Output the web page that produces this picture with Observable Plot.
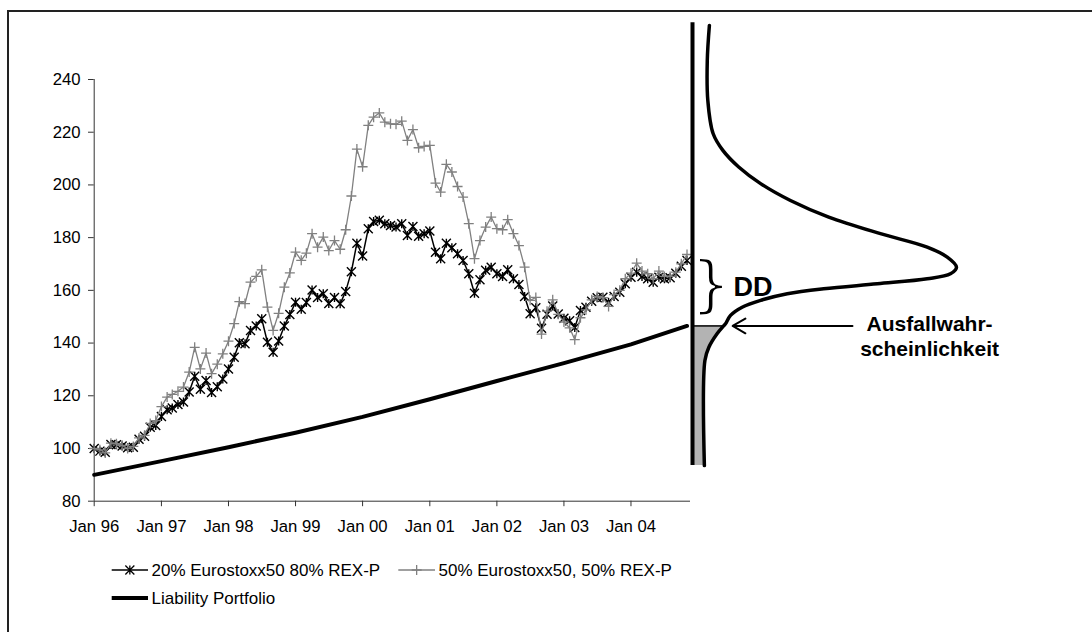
<!DOCTYPE html>
<html><head><meta charset="utf-8">
<script src="https://cdn.jsdelivr.net/npm/d3@7"></script>
<script src="https://cdn.jsdelivr.net/npm/@observablehq/plot@0.6"></script>
<style>
body{margin:0;background:#fff;font-family:"Liberation Sans",Arial,sans-serif;}
#wrap{position:relative;width:1092px;height:632px;overflow:hidden;background:#fff;}
#frame{position:absolute;left:7px;top:10px;right:-10px;bottom:-10px;border-left:2px solid #222;border-top:2px solid #222;}
#wrap svg{position:absolute;left:0;top:0;}
</style></head><body>
<div id="wrap"><div id="frame"></div></div>
<script>
// ---------- data ----------
const seriesNames = ["20% Eurostoxx50 80% REX-P", "50% Eurostoxx50, 50% REX-P", "Liability Portfolio"];
const firstMonth = "1996-01";
const series20 = [
  100.0, 99.0, 98.6, 101.5, 101.4, 100.9, 100.3, 100.5, 103.5, 104.6, 108.1, 108.7,
  112.1, 114.7, 115.4, 116.7, 117.6, 121.4, 127.4, 122.5, 125.8, 121.2, 123.4, 126.4,
  130.2, 134.6, 140.1, 139.7, 144.8, 146.5, 149.2, 140.3, 136.5, 140.8, 146.5, 150.8,
  155.5, 152.8, 155.4, 160.1, 157.3, 158.7, 155.0, 157.3, 154.9, 159.6, 167.1, 177.9,
  173.0, 183.4, 186.1, 186.6, 185.3, 184.6, 184.0, 185.3, 180.8, 184.2, 180.5, 181.5,
  182.5, 174.5, 172.0, 177.9, 176.2, 173.9, 171.3, 166.3, 158.9, 164.0, 167.6, 168.8,
  166.3, 165.3, 167.8, 164.4, 162.2, 157.7, 151.1, 153.4, 145.6, 150.9, 154.1, 151.0,
  149.4, 148.5, 145.9, 152.4, 153.6, 155.9, 157.2, 157.4, 155.5, 157.7, 159.3, 162.5,
  165.0, 166.9, 165.3, 164.4, 163.1, 165.0, 164.4, 164.8, 166.5, 169.1, 171.3
];
const series50 = [
  100.0, 99.5, 98.3, 102.0, 101.8, 101.2, 100.0, 100.8, 104.0, 105.0, 109.5, 110.6,
  115.9, 119.5, 120.5, 121.7, 123.3, 129.0, 138.4, 130.2, 136.2, 128.4, 132.0, 135.9,
  140.7, 147.4, 155.7, 155.0, 163.1, 165.3, 167.8, 153.6, 144.8, 151.3, 161.2, 166.6,
  174.5, 171.4, 174.1, 181.5, 176.4, 180.2, 175.1, 178.9, 175.6, 183.0, 195.8, 213.6,
  206.9, 222.6, 225.7, 227.3, 223.8, 223.2, 223.0, 224.2, 216.9, 221.0, 214.1, 214.6,
  215.0, 200.7, 197.3, 207.8, 204.9, 199.4, 195.4, 185.3, 172.0, 178.9, 184.0, 187.8,
  183.4, 183.0, 186.8, 181.5, 177.0, 168.8, 156.2, 157.3, 143.4, 152.1, 156.4, 150.9,
  148.0, 145.8, 141.3, 149.6, 152.6, 156.4, 157.7, 157.2, 153.9, 158.4, 160.0, 164.4,
  166.5, 170.3, 167.3, 166.3, 164.4, 167.3, 165.3, 165.3, 166.9, 170.1, 173.6
];
const liabilityMonths = ["1996-01","1997-01","1998-01","1999-01","2000-01","2001-01","2002-01","2003-01","2004-01","2004-11"];
const liabilityValues = [90.0, 95.2, 100.5, 106.0, 112.0, 118.7, 125.6, 132.4, 139.5, 146.5];
const yTicks = [80, 100, 120, 140, 160, 180, 200, 220, 240];
const xTickLabels = ["Jan 96","Jan 97","Jan 98","Jan 99","Jan 00","Jan 01","Jan 02","Jan 03","Jan 04"];
const xDomainEnd = "2004-11-20";
// density of the portfolio value at the horizon (value level, relative height)
const densityValues  = [260.5, 247.2, 232.1, 219.5, 213.1, 206.8, 200.5, 194.1, 187.8, 181.5, 176.4, 172.6, 168.8, 166.3, 164.4, 162.5, 160.6, 158.7, 156.2, 153.6, 150.5, 147.3, 146.5, 143.5, 138.4, 133.4, 93.5];
const densityHeights = [0.064, 0.056, 0.058, 0.078, 0.115, 0.175, 0.258, 0.371, 0.516, 0.712, 0.889, 0.965, 1.0, 0.977, 0.889, 0.70, 0.497, 0.359, 0.258, 0.188, 0.144, 0.125, 0.118, 0.093, 0.062, 0.047, 0.045];
const annotationDD = "DD";
const annotationPD = "Ausfallwahr-\nscheinlichkeit";

// ---------- build tables ----------
const parseMonth = d3.utcParse("%Y-%m");
const start = parseMonth(firstMonth);
const monthDate = i => d3.utcMonth.offset(start, i);
const data20 = series20.map((v, i) => ({date: monthDate(i), value: v}));
const data50 = series50.map((v, i) => ({date: monthDate(i), value: v}));
const liab = liabilityMonths.map((m, i) => ({date: parseMonth(m), value: liabilityValues[i]}));
const xTickDates = xTickLabels.map((_, i) => d3.utcYear.offset(start, i));
const labelOf = new Map(xTickDates.map((d, i) => [+d, xTickLabels[i]]));
const xDomain = [start, d3.utcParse("%Y-%m-%d")(xDomainEnd)];
const dens = densityValues.map((v, i) => ({v, d: densityHeights[i]}));
const threshold = liabilityValues[liabilityValues.length - 1];
const thrD = densityHeights[densityValues.indexOf(threshold)];
const lastAsset = series20[series20.length - 1];
const midDD = (threshold + lastAsset) / 2;

// custom marker symbols (half-size = r)
const starSym = {draw(ctx, size) { const r = Math.sqrt(size / Math.PI);
  ctx.moveTo(-r, -r); ctx.lineTo(r, r); ctx.moveTo(-r, r); ctx.lineTo(r, -r);
  ctx.moveTo(0, -r); ctx.lineTo(0, r); }};
const plusSym = {draw(ctx, size) { const r = Math.sqrt(size / Math.PI);
  ctx.moveTo(-r, 0); ctx.lineTo(r, 0); ctx.moveTo(0, -r); ctx.lineTo(0, r); }};

const W = 1092, H = 632, MT = 79, MB = 131.3;
const font = "'Liberation Sans', Arial, sans-serif";
const gray = "#808080";

// ---------- main time-series chart ----------
const main = Plot.plot({
  width: W, height: H,
  marginTop: MT, marginBottom: MB, marginLeft: 93.7, marginRight: W - 690,
  style: {fontFamily: font, fontSize: "16.7px", color: "#000", background: "transparent", overflow: "visible"},
  x: {type: "utc", domain: xDomain},
  y: {domain: [yTicks[0], yTicks[yTicks.length - 1]]},
  marks: [
    Plot.ruleY([yTicks[0]], {stroke: "#333", strokeWidth: 1}),
    Plot.ruleX([start], {y1: yTicks[0], y2: yTicks[yTicks.length - 1], stroke: "#333", strokeWidth: 1}),
    Plot.axisY({ticks: yTicks, tickSize: 5.7, tickPadding: 8, label: null, stroke: "#333", fill: "#000", fontSize: 16.7}),
    Plot.axisX({ticks: xTickDates, tickFormat: d => labelOf.get(+d), tickSize: 5.5, tickPadding: 13.5, label: null, stroke: "#333", fill: "#000", fontSize: 16.7}),
    Plot.line(data20, {x: "date", y: "value", stroke: "#000", strokeWidth: 1.5}),
    Plot.dot(data20, {x: "date", y: "value", symbol: starSym, r: 4.5, fill: "none", stroke: "#000", strokeWidth: 1.4}),
    Plot.line(data50, {x: "date", y: "value", stroke: gray, strokeWidth: 1.3}),
    Plot.dot(data50, {x: "date", y: "value", symbol: plusSym, r: 5, fill: "none", stroke: gray, strokeWidth: 1.3}),
    Plot.line(liab, {x: "date", y: "value", stroke: "#000", strokeWidth: 4})
  ]
});
document.getElementById("wrap").appendChild(main);

// ---------- density annotation (same value scale) ----------
const densPlot = Plot.plot({
  width: W, height: H,
  marginTop: MT, marginBottom: MB, marginLeft: 692, marginRight: W - 956,
  style: {fontFamily: font, color: "#000", background: "transparent", overflow: "visible"},
  x: {domain: [0, 1], axis: null},
  y: {domain: [yTicks[0], yTicks[yTicks.length - 1]], axis: null},
  marks: [
    Plot.areaX(dens.filter(p => p.v <= threshold), {y: "v", x1: 0, x2: "d", fill: "#b3b3b3", curve: "catmull-rom"}),
    Plot.ruleY([threshold], {x1: 0, x2: thrD, stroke: "#000", strokeWidth: 1.5}),
    Plot.line(dens, {x: "d", y: "v", curve: "catmull-rom", stroke: "#000", strokeWidth: 3.5}),
    Plot.ruleX([0], {y1: d3.min(densityValues), y2: d3.max(densityValues) + 1, stroke: "#000", strokeWidth: 4}),
    Plot.arrow([threshold], {x1: 0.606, x2: thrD, y1: d => d, y2: d => d, insetEnd: 9, headLength: 11, stroke: "#000", strokeWidth: 2}),
    Plot.text(["}"], {x: 0, y: midDD, text: d => d, dx: 18.5, dy: -8.5, fontSize: 62, fontFamily: "DejaVu Sans", fill: "#000", stroke: "#fff", strokeWidth: 2, paintOrder: "normal"}),
    Plot.text([annotationDD], {x: 0, y: midDD, text: d => d, dx: 41, dy: -5.4, textAnchor: "start", fontSize: 27, fontWeight: "bold", fill: "#000"}),
    Plot.text([annotationPD], {x: 0.898, y: threshold, text: d => d, dy: -11.7, lineAnchor: "top", lineHeight: 1.15, fontSize: 21, fontWeight: "bold", fill: "#000"})
  ]
});
document.getElementById("wrap").appendChild(densPlot);

// ---------- legend ----------
const leg = d3.select("#wrap").append("svg").attr("width", W).attr("height", H)
  .style("font-family", font).style("font-size", "17px");
const items = [
  {x0: 111.7, x1: 148, y: 570, stroke: "#000", sw: 1.5, sym: starSym, r: 4.5, label: seriesNames[0]},
  {x0: 398.3, x1: 435, y: 570, stroke: gray, sw: 1.3, sym: plusSym, r: 5, label: seriesNames[1]},
  {x0: 111.7, x1: 148, y: 598, stroke: "#000", sw: 4, sym: null, label: seriesNames[2]}
];
items.forEach(it => {
  leg.append("line").attr("x1", it.x0).attr("x2", it.x1).attr("y1", it.y).attr("y2", it.y)
    .attr("stroke", it.stroke).attr("stroke-width", it.sw);
  if (it.sym) leg.append("path").attr("transform", `translate(${(it.x0 + it.x1) / 2},${it.y})`)
    .attr("d", d3.symbol(it.sym, it.r * it.r * Math.PI)()).attr("fill", "none")
    .attr("stroke", it.stroke).attr("stroke-width", 1.3);
  leg.append("text").attr("x", it.x1 + 3.5).attr("y", it.y + 6).attr("fill", "#000").text(it.label);
});
</script>
</body></html>
